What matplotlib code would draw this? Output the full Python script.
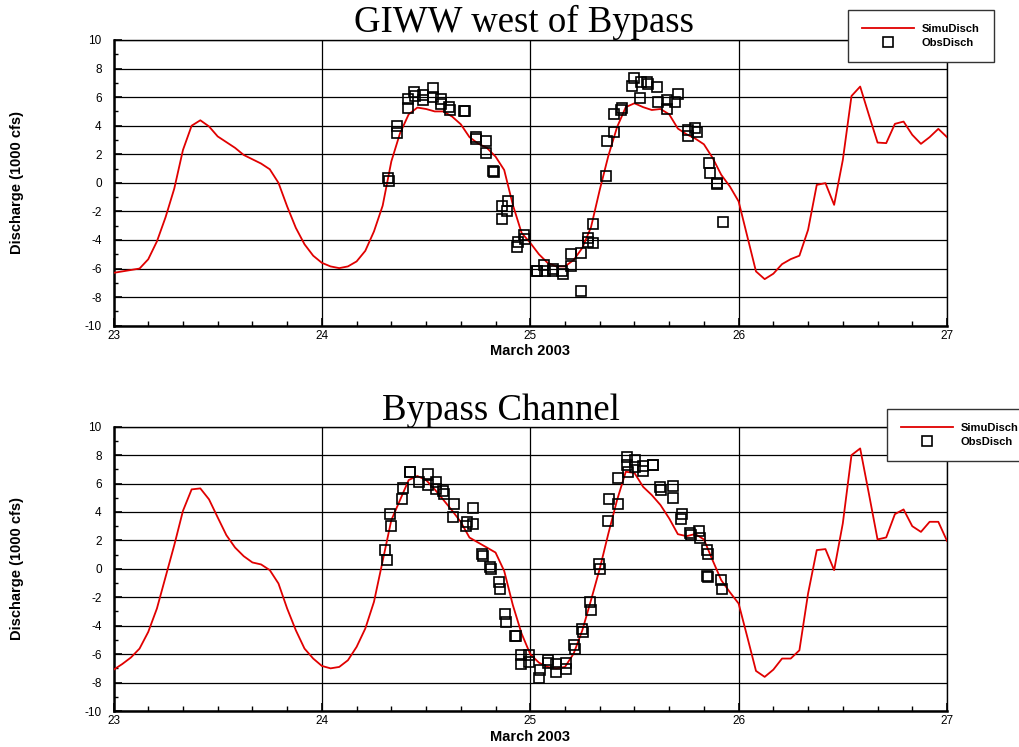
import numpy as np
import matplotlib
matplotlib.use("Agg")
import matplotlib.pyplot as plt
from matplotlib.ticker import MultipleLocator, FixedLocator

plt.rcParams['font.family'] = ['Liberation Sans', 'DejaVu Sans']
plt.rcParams['axes.unicode_minus'] = False

# ---------------- simulated discharge, hourly from 23 March 00:00 (1000 cfs) ----------------
sim_hours = np.arange(97)

giww_sim = [
    # 23 March
    -6.3, -6.2, -6.1, -6.0, -5.35, -4.1, -2.4, -0.4, 2.3, 4.0, 4.38, 3.95,
    3.25, 2.85, 2.45, 1.95, 1.65, 1.35, 0.95, 0.0, -1.65, -3.15, -4.3, -5.1,
    # 24 March
    -5.6, -5.85, -5.97, -5.85, -5.5, -4.76, -3.4, -1.6, 1.5, 3.47, 4.8, 5.27,
    5.17, 5.0, 5.0, 4.64, 4.1, 3.2, 2.75, 2.45, 1.84, 0.9, -1.55, -3.5,
    # 25 March
    -4.2, -5.0, -5.6, -5.85, -5.85, -5.4, -4.55, -3.1, -0.5, 1.9, 3.9, 5.3,
    5.57, 5.3, 5.1, 5.17, 4.8, 3.8, 3.4, 3.1, 2.7, 1.75, 0.56, -0.26,
    # 26 March
    -1.3, -3.75, -6.2, -6.74, -6.36, -5.69, -5.34, -5.1, -3.29, -0.14, -0.02, -1.54,
    1.6, 6.08, 6.74, 4.76, 2.82, 2.78, 4.13, 4.29, 3.36, 2.73, 3.2, 3.78,
    # 27 March 00:00
    3.2,
]

bypass_sim = [
    # 23 March
    -7.1, -6.7, -6.24, -5.61, -4.44, -2.79, -0.56, 1.67, 4.08, 5.59, 5.66, 4.89,
    3.62, 2.37, 1.5, 0.89, 0.45, 0.31, -0.09, -1.03, -2.79, -4.32, -5.61, -6.31,
    # 24 March
    -6.83, -7.0, -6.9, -6.43, -5.49, -4.2, -2.32, 0.55, 3.43, 4.84, 6.25, 6.53,
    6.25, 5.59, 4.85, 4.1, 3.3, 2.2, 1.85, 1.5, 1.15, -0.15, -2.56, -4.55,
    # 25 March
    -6.0, -6.6, -6.9, -7.0, -6.9, -5.96, -4.32, -2.2, 0.0, 2.49, 4.84, 6.83,
    6.75, 5.77, 5.19, 4.49, 3.55, 2.44, 2.3, 2.45, 2.07, 0.61, -0.8, -1.65,
    # 26 March
    -2.44, -4.79, -7.18, -7.6, -7.09, -6.31, -6.31, -5.73, -1.73, 1.32, 1.39, -0.09,
    3.2, 8.0, 8.47, 5.3, 2.07, 2.21, 3.85, 4.18, 3.0, 2.6, 3.31, 3.31,
    # 27 March 00:00
    1.97,
]

# ---------------- observed discharge (hours after 23 March 00:00, 1000 cfs) ----------------
giww_obs_hours = [
    31.65, 31.73, 32.6, 32.7, 33.9, 33.95, 34.6, 34.7, 35.6, 35.6,
    36.83, 36.76, 37.7, 37.7, 38.6, 38.7, 40.4, 40.45, 41.7, 41.75,
    42.9, 42.9, 43.75, 43.8, 44.7, 45.4, 45.35, 44.7, 46.5, 46.6,
    47.3, 47.35, 48.73, 48.75, 49.6, 49.7, 50.6, 50.65, 51.8, 51.7,
    52.7, 52.7, 53.8, 53.9, 54.6, 54.7, 55.25, 55.25, 56.7, 56.8,
    57.6, 57.6, 58.5, 58.6, 59.7, 59.9, 60.6, 60.7, 61.5, 61.6,
    62.6, 62.7, 63.7, 63.8, 64.7, 65.0, 66.2, 66.2, 66.97, 67.2,
    68.6, 68.7, 69.5, 69.55, 70.2,
]
giww_obs = [
    0.33, 0.14, 4.0, 3.5, 5.22, 5.85, 6.34, 6.08, 6.15, 5.8,
    6.62, 5.99, 5.85, 5.52, 5.34, 5.1, 5.03, 5.06, 3.2, 3.08,
    2.94, 2.08, 0.84, 0.75, -1.59, -1.3, -1.96, -2.52, -4.5, -4.15,
    -3.64, -3.92, -6.15, -6.2, -5.78, -6.15, -6.04, -6.15, -6.4, -6.2,
    -5.85, -5.0, -7.55, -4.92, -3.83, -4.15, -4.22, -2.87, 0.51, 2.94,
    3.54, 4.83, 5.1, 5.22, 6.8, 7.36, 5.97, 7.08, 7.08, 6.95,
    6.74, 5.64, 5.78, 5.17, 5.64, 6.2, 3.71, 3.31, 3.82, 3.59,
    1.37, 0.67, -0.02, -0.05, -2.75,
]

bypass_obs_hours = [
    31.3, 31.45, 31.9, 32.0, 33.26, 33.3, 34.15, 34.2, 35.15, 36.25,
    36.2, 37.1, 37.1, 38.0, 38.1, 39.2, 39.1, 40.7, 40.6, 41.4,
    41.4, 42.5, 42.55, 43.4, 43.45, 44.4, 44.5, 45.1, 45.2, 46.3,
    46.35, 46.9, 46.9, 47.9, 47.9, 49.1, 49.04, 50.0, 50.07, 51.0,
    51.0, 52.1, 52.1, 53.07, 53.15, 54.0, 54.1, 54.9, 55.0, 55.9,
    56.0, 57.0, 57.1, 58.1, 58.1, 59.2, 59.2, 59.3, 60.1, 60.1,
    61.0, 61.0, 62.1, 62.15, 63.0, 63.05, 64.4, 64.4, 65.5, 65.4,
    66.45, 66.5, 67.4, 67.5, 68.4, 68.5, 68.4, 68.45, 70.0, 70.1,
]
bypass_obs = [
    1.32, 0.61, 3.85, 3.01, 4.91, 5.66, 6.83, 6.78, 6.13, 6.65,
    5.9, 6.08, 5.59, 5.47, 5.26, 4.53, 3.66, 3.31, 3.01, 4.3,
    3.15, 1.03, 0.9, 0.14, 0.0, -0.92, -1.44, -3.2, -3.73, -4.74,
    -4.7, -6.08, -6.67, -6.08, -6.55, -7.13, -7.65, -6.43, -6.62, -6.71,
    -7.25, -6.62, -7.02, -5.33, -5.61, -4.2, -4.44, -2.32, -2.86, 0.33,
    -0.02, 3.36, 4.91, 4.56, 6.37, 7.89, 7.3, 6.83, 7.65, 7.18,
    7.23, 6.9, 7.3, 7.32, 5.77, 5.54, 5.85, 5.0, 3.85, 3.48,
    2.49, 2.4, 2.68, 2.14, 1.32, 1.03, -0.51, -0.6, -0.8, -1.45,
]

day_ticks = [23, 24, 25, 26, 27]

W, H = 1019, 747
fig = plt.figure(figsize=(W / 100, H / 100), dpi=100)


def fx(px):
    return px / W


def fy(py):
    return 1 - py / H


def panel(rect, sim, obs_h, obs_v, title, title_xy, legend_xy, label_y):
    ax = fig.add_axes(rect)
    t_sim = 23 + np.asarray(sim_hours) / 24.0
    t_obs = 23 + np.asarray(obs_h) / 24.0
    ln, = ax.plot(t_sim, sim, color='#e00000', lw=1.3, label='SimuDisch', zorder=3)
    pts, = ax.plot(t_obs, obs_v, ls='none', marker='s', ms=7.2, mfc='none',
                   mec='black', mew=1.2, label='ObsDisch', zorder=4)

    ax.set_xlim(23, 27)
    ax.set_ylim(-10, 10)
    ax.xaxis.set_major_locator(FixedLocator(day_ticks))
    ax.set_xticklabels([str(d) for d in day_ticks])
    ax.xaxis.set_minor_locator(MultipleLocator(1 / 6))
    ax.yaxis.set_major_locator(MultipleLocator(2))
    ax.yaxis.set_minor_locator(MultipleLocator(1))
    ax.tick_params(which='both', direction='in', top=False, right=False,
                   labelsize=8.5, color='black')
    ax.tick_params(axis='y', which='major', length=6, width=1.2, pad=8.5)
    ax.tick_params(axis='y', which='minor', length=3, width=1.0)
    ax.tick_params(axis='x', which='major', length=6, width=1.2, pad=3)
    ax.tick_params(axis='x', which='minor', length=3.5, width=1.0)
    ax.grid(True, which='major', color='black', lw=0.9, zorder=1)
    for side in ['top', 'right']:
        ax.spines[side].set_linewidth(1.0)
    for side in ['left', 'bottom']:
        ax.spines[side].set_linewidth(1.8)

    fig.text(fx(title_xy[0]), fy(title_xy[1]), title, family='Liberation Serif',
             fontsize=26.5, ha='center', va='baseline')
    fig.text(fx(530), fy(label_y), 'March 2003', fontsize=10.5,
             fontweight='bold', ha='center', va='center')
    fig.text(fx(17), (rect[1] + rect[3] / 2), 'Discharge (1000 cfs)', fontsize=10.5,
             fontweight='bold', rotation=90, ha='center', va='center')

    leg = fig.legend(handles=[ln, pts], loc='upper left',
                     bbox_to_anchor=(fx(legend_xy[0]), fy(legend_xy[1])),
                     prop={'weight': 'bold', 'size': 8}, frameon=True,
                     fancybox=False, framealpha=1, edgecolor='#333333',
                     handlelength=4.7, handletextpad=0.7, borderpad=1.25,
                     labelspacing=0.35, numpoints=1, borderaxespad=0)
    leg.get_frame().set_linewidth(1.0)
    return ax


top_rect = [fx(113.5), fy(325.7), fx(947) - fx(113.5), (325.7 - 40) / H]
bot_rect = [fx(113.5), fy(711), fx(947) - fx(113.5), (711 - 426.7) / H]

panel(top_rect, giww_sim, giww_obs_hours, giww_obs, 'GIWW west of Bypass', (524, 32),
      (848, 10), 351)
panel(bot_rect, bypass_sim, bypass_obs_hours, bypass_obs, 'Bypass Channel', (501, 420),
      (887, 409), 737)

fig.savefig('out.png', dpi=100)
